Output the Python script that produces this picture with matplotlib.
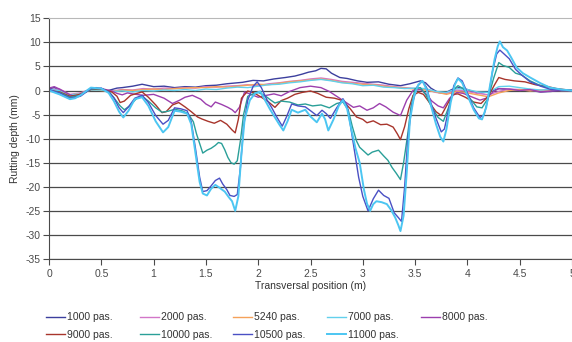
import matplotlib
matplotlib.use('Agg')
import matplotlib.pyplot as plt
import numpy as np

plt.rcParams['font.family'] = ['Liberation Sans', 'DejaVu Sans']
plt.rcParams['axes.unicode_minus'] = False

# (position m, depth mm)
s1000 = [(0, 0.3), (0.05, 0.6), (0.1, 0.1), (0.15, -0.6), (0.2, -1.2), (0.25, -1.4), (0.3, -0.9), (0.35, -0.2),
         (0.4, 0.4), (0.45, 0.6), (0.5, 0.3), (0.55, -0.1), (0.6, 0.2), (0.65, 0.5), (0.7, 0.6), (0.8, 0.9),
         (0.89, 1.3), (1.0, 0.8), (1.1, 0.9), (1.2, 0.6), (1.3, 0.8), (1.4, 0.7), (1.5, 1.0), (1.6, 1.1),
         (1.7, 1.4), (1.85, 1.7), (1.95, 2.1), (2.05, 2.0), (2.15, 2.4), (2.26, 2.7), (2.35, 3.0), (2.42, 3.4),
         (2.48, 3.8), (2.55, 4.1), (2.6, 4.6), (2.65, 4.5), (2.7, 3.6), (2.78, 2.7), (2.85, 2.5), (2.95, 2.0),
         (3.04, 1.7), (3.15, 1.8), (3.25, 1.3), (3.36, 1.0), (3.45, 1.4), (3.55, 2.0), (3.6, 1.6), (3.65, 0.5),
         (3.72, -0.4), (3.78, -0.6), (3.85, 0.2), (3.92, 0.6), (4.0, 0.2), (4.1, -0.6), (4.2, -0.3), (4.3, 0.4),
         (4.4, 0.2), (4.5, 0.1), (4.6, 0.0), (4.7, -0.3), (4.8, -0.2), (4.9, 0.1), (5.0, 0.0)]

s2000 = [(0, 0.2), (0.1, 0.3), (0.2, -0.8), (0.3, -0.5), (0.4, 0.3), (0.5, 0.2), (0.6, -0.1), (0.7, 0.2),
         (0.8, 0.1), (0.9, 0.4), (1.0, 0.3), (1.1, 0.5), (1.2, 0.4), (1.3, 0.6), (1.4, 0.5), (1.5, 0.8),
         (1.6, 0.7), (1.7, 0.9), (1.8, 1.0), (1.9, 1.2), (2.0, 1.0), (2.1, 1.4), (2.2, 1.6), (2.3, 1.9),
         (2.4, 2.1), (2.5, 2.4), (2.6, 2.6), (2.7, 2.3), (2.8, 1.9), (2.9, 1.7), (3.0, 1.5), (3.1, 1.3),
         (3.2, 1.1), (3.3, 0.8), (3.4, 0.6), (3.5, 0.4), (3.6, 0.2), (3.7, -0.4), (3.8, -0.6), (3.9, 0.1),
         (4.0, -0.2), (4.1, -0.6), (4.2, -0.9), (4.3, -0.2), (4.4, 0.3), (4.5, 0.2), (4.6, 0.1), (4.7, -0.1),
         (4.8, 0.1), (4.9, 0.0), (5.0, 0.0)]

s5240 = [(0, 0.0), (0.1, -0.2), (0.2, -1.0), (0.3, -0.6), (0.4, 0.2), (0.5, 0.0), (0.6, -0.2), (0.7, 0.1),
         (0.8, 0.0), (0.9, 0.2), (1.0, 0.3), (1.1, 0.2), (1.2, 0.4), (1.3, 0.5), (1.4, 0.6), (1.5, 0.6),
         (1.6, 0.8), (1.7, 0.7), (1.8, 0.9), (1.9, 1.1), (2.0, 1.3), (2.1, 1.2), (2.2, 1.5), (2.3, 1.8),
         (2.4, 2.0), (2.5, 2.2), (2.6, 2.4), (2.7, 2.1), (2.8, 1.7), (2.9, 1.5), (3.0, 1.3), (3.1, 1.2),
         (3.2, 0.9), (3.3, 0.7), (3.4, 0.5), (3.5, 0.3), (3.6, 0.1), (3.7, -0.3), (3.8, -0.8), (3.9, -0.2),
         (4.0, -0.5), (4.1, -0.9), (4.2, -1.3), (4.3, -0.5), (4.4, 0.0), (4.5, 0.2), (4.6, -0.1), (4.7, 0.1),
         (4.8, 0.0), (4.9, 0.1), (5.0, 0.0)]

s7000 = [(0, 0.2), (0.1, 0.0), (0.2, -0.9), (0.3, -0.7), (0.4, 0.1), (0.5, 0.1), (0.6, -0.2), (0.7, -0.1),
         (0.8, -0.3), (0.9, 0.0), (1.0, -0.1), (1.1, 0.1), (1.2, 0.0), (1.3, 0.2), (1.4, 0.0), (1.5, 0.3),
         (1.6, 0.2), (1.7, 0.5), (1.8, 0.7), (1.9, 0.6), (2.0, 0.9), (2.1, 1.2), (2.2, 1.3), (2.3, 1.6),
         (2.4, 1.8), (2.5, 2.1), (2.6, 2.3), (2.7, 2.0), (2.8, 1.6), (2.9, 1.4), (3.0, 1.0), (3.1, 1.1),
         (3.2, 0.7), (3.3, 0.6), (3.4, 0.4), (3.5, 0.5), (3.6, 0.4), (3.7, -0.2), (3.8, -0.4), (3.9, 0.4),
         (4.0, 0.2), (4.1, -0.3), (4.2, -0.4), (4.3, 0.8), (4.4, 0.9), (4.5, 0.6), (4.6, 0.3), (4.7, 0.1),
         (4.8, 0.2), (4.9, 0.0), (5.0, 0.0)]

s8000 = [(0, 0.5), (0.05, 0.8), (0.1, 0.3), (0.15, -0.3), (0.2, -0.9), (0.25, -1.2), (0.3, -0.7), (0.4, 0.3),
         (0.5, 0.4), (0.6, -0.1), (0.65, -0.6), (0.7, -0.9), (0.75, -0.5), (0.8, -0.7), (0.9, -1.0), (1.0, -0.8),
         (1.1, -1.6), (1.18, -2.7), (1.25, -2.0), (1.3, -1.4), (1.37, -1.0), (1.45, -1.8), (1.5, -2.8),
         (1.55, -3.4), (1.59, -2.4), (1.65, -2.9), (1.71, -3.5), (1.75, -4.0), (1.78, -4.6), (1.82, -3.5),
         (1.87, -0.3), (1.93, -0.8), (2.0, -1.4), (2.08, -1.0), (2.15, -0.7), (2.22, -1.1), (2.3, -0.2),
         (2.4, 0.6), (2.5, 0.9), (2.6, 0.6), (2.68, -0.2), (2.75, -1.2), (2.82, -2.2), (2.91, -3.5),
         (2.97, -3.2), (3.04, -4.1), (3.1, -3.6), (3.16, -2.7), (3.22, -3.4), (3.29, -4.5), (3.36, -5.2),
         (3.42, -2.0), (3.48, 0.0), (3.55, 0.2), (3.6, -0.6), (3.66, -2.2), (3.72, -3.2), (3.77, -3.6),
         (3.83, -1.6), (3.9, -0.4), (3.96, -0.6), (4.05, -1.4), (4.12, -2.0), (4.18, -1.6), (4.25, -0.2),
         (4.3, 0.4), (4.4, 0.3), (4.5, 0.0), (4.6, 0.2), (4.7, -0.3), (4.8, -0.1), (4.9, 0.0), (5.0, 0.0)]

s9000 = [(0, 0.0), (0.1, -0.3), (0.2, -1.2), (0.3, -0.8), (0.4, 0.2), (0.5, 0.3), (0.6, -0.3), (0.65, -1.2),
         (0.68, -2.5), (0.72, -2.2), (0.78, -1.0), (0.84, -0.6), (0.89, -0.3), (0.95, -1.4), (1.02, -3.0),
         (1.08, -4.6), (1.12, -4.4), (1.18, -3.0), (1.24, -2.5), (1.3, -3.4), (1.36, -4.4), (1.42, -5.5),
         (1.46, -5.9), (1.52, -6.4), (1.58, -6.8), (1.64, -6.2), (1.7, -7.0), (1.75, -8.2), (1.78, -8.8),
         (1.81, -6.0), (1.84, -1.6), (1.9, -0.1), (1.96, -0.5), (2.03, -1.4), (2.1, -2.4), (2.16, -3.5),
         (2.22, -2.1), (2.28, -1.6), (2.35, -0.8), (2.42, -0.4), (2.5, -0.1), (2.57, -0.6), (2.65, -1.4),
         (2.73, -1.6), (2.81, -2.1), (2.88, -3.8), (2.94, -5.5), (3.0, -6.0), (3.04, -6.7), (3.1, -6.3),
         (3.17, -7.1), (3.23, -7.0), (3.29, -7.6), (3.33, -9.0), (3.36, -10.2), (3.4, -7.5), (3.44, -3.8),
         (3.48, -1.0), (3.53, -0.4), (3.58, -0.8), (3.64, -2.6), (3.7, -4.4), (3.75, -5.2), (3.8, -3.2),
         (3.86, -0.8), (3.91, -0.7), (3.98, -1.4), (4.06, -2.4), (4.13, -2.7), (4.2, -1.2), (4.26, 1.2),
         (4.3, 2.7), (4.36, 2.3), (4.45, 2.0), (4.55, 1.8), (4.65, 1.2), (4.75, 0.9), (4.85, 0.4), (5.0, 0.0)]

s10000 = [(0, 0.0), (0.1, -0.4), (0.2, -1.4), (0.3, -1.0), (0.4, 0.3), (0.5, 0.4), (0.58, -0.4), (0.63, -1.8),
          (0.68, -3.2), (0.72, -4.0), (0.77, -3.2), (0.84, -1.6), (0.89, -1.2), (0.95, -2.2), (1.02, -3.6),
          (1.08, -4.5), (1.14, -4.3), (1.2, -3.9), (1.27, -4.2), (1.33, -4.8), (1.38, -6.5), (1.41, -9.0),
          (1.44, -11.0), (1.47, -13.0), (1.51, -12.4), (1.55, -12.0), (1.59, -11.4), (1.62, -10.8),
          (1.65, -11.0), (1.68, -12.3), (1.71, -13.9), (1.74, -15.0), (1.77, -15.3), (1.8, -14.6),
          (1.83, -10.4), (1.86, -5.0), (1.9, -1.2), (1.96, -0.6), (2.0, -0.4), (2.06, -1.0), (2.12, -2.0),
          (2.16, -2.6), (2.22, -2.2), (2.3, -2.4), (2.38, -3.0), (2.45, -2.8), (2.52, -3.2), (2.6, -3.0),
          (2.68, -3.6), (2.75, -2.7), (2.81, -2.4), (2.86, -4.0), (2.9, -7.5), (2.94, -10.5), (2.97, -11.8),
          (3.01, -12.6), (3.05, -13.4), (3.09, -12.8), (3.15, -12.4), (3.2, -13.6), (3.24, -14.5),
          (3.28, -16.0), (3.32, -17.2), (3.36, -18.5), (3.39, -15.0), (3.43, -9.0), (3.46, -3.5), (3.5, 0.4),
          (3.55, 0.6), (3.6, -0.8), (3.66, -3.5), (3.72, -5.6), (3.77, -6.4), (3.82, -3.5), (3.87, 0.2),
          (3.91, 1.0), (3.96, 0.4), (4.03, -1.8), (4.09, -3.4), (4.14, -3.6), (4.2, -1.5), (4.25, 2.5),
          (4.3, 5.8), (4.34, 5.2), (4.4, 4.8), (4.46, 3.6), (4.52, 3.2), (4.6, 2.0), (4.7, 1.0), (4.8, 0.5),
          (4.9, 0.2), (5.0, 0.0)]

s10500 = [(0, 0.2), (0.1, -0.5), (0.2, -1.6), (0.3, -1.2), (0.4, 0.4), (0.5, 0.5), (0.57, -0.3), (0.62, -1.5),
          (0.67, -3.6), (0.71, -4.6), (0.76, -3.4), (0.82, -1.6), (0.89, -1.0), (0.95, -2.5), (1.02, -5.2),
          (1.09, -7.0), (1.14, -6.2), (1.2, -3.6), (1.26, -3.8), (1.32, -4.2), (1.36, -6.5), (1.4, -12.0),
          (1.44, -18.0), (1.47, -21.0), (1.51, -20.8), (1.55, -19.8), (1.59, -18.7), (1.63, -18.2),
          (1.66, -19.4), (1.7, -20.6), (1.73, -21.8), (1.77, -22.0), (1.8, -21.6), (1.83, -16.0),
          (1.86, -7.5), (1.9, -2.0), (1.95, 0.8), (1.99, 1.8), (2.03, 0.6), (2.08, -1.8), (2.13, -3.6),
          (2.18, -5.6), (2.23, -7.4), (2.27, -5.5), (2.32, -2.8), (2.38, -3.2), (2.45, -3.4), (2.5, -4.2),
          (2.56, -5.2), (2.61, -4.1), (2.65, -4.8), (2.69, -5.8), (2.75, -3.6), (2.81, -1.7), (2.85, -3.2),
          (2.88, -7.0), (2.92, -12.5), (2.96, -18.0), (3.0, -22.0), (3.05, -25.0), (3.1, -22.5), (3.15, -20.7),
          (3.2, -21.8), (3.25, -22.4), (3.3, -25.4), (3.34, -26.4), (3.37, -27.2), (3.4, -20.0), (3.43, -10.0),
          (3.47, -3.0), (3.52, 0.8), (3.57, 2.0), (3.61, 0.6), (3.65, -2.5), (3.7, -5.8), (3.75, -8.6),
          (3.78, -8.0), (3.83, -3.0), (3.87, 1.0), (3.91, 2.6), (3.95, 2.0), (4.0, -0.5), (4.06, -3.6),
          (4.12, -5.6), (4.16, -5.0), (4.2, -1.5), (4.24, 4.0), (4.28, 7.6), (4.31, 8.4), (4.35, 7.6),
          (4.4, 6.6), (4.46, 4.4), (4.52, 3.2), (4.6, 1.8), (4.7, 0.9), (4.8, 0.2), (4.9, 0.1), (5.0, 0.0)]

s11000 = [(0, 0.0), (0.1, -0.8), (0.2, -1.8), (0.25, -1.6), (0.3, -1.0), (0.4, 0.6), (0.5, 0.4), (0.57, -0.5),
          (0.62, -2.2), (0.67, -4.4), (0.71, -5.6), (0.76, -4.2), (0.82, -1.8), (0.89, -1.4), (0.95, -3.2),
          (1.02, -6.4), (1.09, -8.7), (1.14, -7.6), (1.2, -4.2), (1.26, -4.4), (1.32, -4.8), (1.36, -7.0),
          (1.4, -13.0), (1.44, -19.0), (1.47, -21.4), (1.51, -21.8), (1.55, -20.4), (1.59, -19.6),
          (1.63, -20.2), (1.68, -21.0), (1.72, -22.2), (1.75, -23.0), (1.78, -25.0), (1.81, -22.0),
          (1.84, -13.0), (1.87, -6.0), (1.92, -2.0), (1.97, -0.6), (2.02, -0.2), (2.06, -1.8), (2.11, -3.8),
          (2.16, -5.6), (2.2, -7.0), (2.24, -8.3), (2.28, -6.4), (2.32, -4.0), (2.38, -4.6), (2.45, -4.0),
          (2.5, -5.4), (2.56, -6.6), (2.61, -4.8), (2.64, -6.0), (2.67, -8.3), (2.72, -6.0), (2.77, -3.2),
          (2.81, -2.0), (2.85, -3.8), (2.89, -8.0), (2.93, -12.0), (2.97, -15.0), (3.01, -20.5), (3.04, -23.5),
          (3.07, -25.0), (3.1, -23.6), (3.13, -23.0), (3.18, -23.2), (3.23, -23.6), (3.27, -24.8), (3.31, -26.4),
          (3.34, -28.0), (3.36, -29.2), (3.39, -26.0), (3.42, -17.0), (3.45, -6.2), (3.49, -1.2), (3.53, 1.2),
          (3.57, 2.0), (3.61, 0.2), (3.65, -3.0), (3.7, -7.0), (3.74, -9.6), (3.77, -10.6), (3.8, -8.0),
          (3.84, -2.5), (3.88, 1.2), (3.91, 2.5), (3.95, 1.6), (4.0, -1.0), (4.06, -4.0), (4.11, -5.8),
          (4.14, -6.0), (4.18, -3.5), (4.22, 1.5), (4.26, 6.5), (4.29, 9.2), (4.31, 10.2), (4.34, 9.0),
          (4.38, 8.3), (4.42, 6.8), (4.47, 4.8), (4.53, 3.6), (4.6, 2.7), (4.7, 1.5), (4.79, 0.6), (4.9, 0.2),
          (5.0, 0.0)]

labels = ['1000 pas.', '2000 pas.', '5240 pas.', '7000 pas.', '8000 pas.',
          '9000 pas.', '10000 pas.', '10500 pas.', '11000 pas.']
series = [s1000, s2000, s5240, s7000, s8000, s9000, s10000, s10500, s11000]
colors = ['#3c3f9e', '#d276c8', '#f5a25a', '#62d0ec', '#9c3fae',
          '#a8352c', '#2a9f98', '#4a50c4', '#4cc6f2']
widths = [1.0, 1.0, 1.0, 1.0, 1.0, 1.0, 1.0, 1.0, 1.4]

fig = plt.figure(figsize=(5.72, 3.42), dpi=100)
ax = fig.add_axes([0.0857, 0.2427, 0.9143, 0.7038])

handles = []
for s, lab, c, w in zip(series, labels, colors, widths):
    xs, ys = np.array(s).T
    h, = ax.plot(xs, ys, color=c, lw=w, label=lab)
    handles.append(h)

ax.set_xlim(0, 5)
ax.set_ylim(-35, 15)
ax.set_xticks(np.arange(0, 5.01, 0.5))
ax.set_xticklabels(['0', '0.5', '1', '1.5', '2', '2.5', '3', '3.5', '4', '4.5', '5'])
ax.set_yticks(np.arange(-35, 16, 5))

ax.yaxis.grid(True, color='#4a4a4a', lw=0.9)
ax.set_axisbelow(True)
ax.get_ygridlines()[-1].set_visible(False)

ax.spines['right'].set_visible(False)
ax.spines['top'].set_color('#b8b8b8')
ax.spines['left'].set_color('#4a4a4a')
ax.spines['bottom'].set_color('#4a4a4a')
ax.tick_params(axis='both', labelsize=7.5, colors='#4a4a4a', length=4, width=0.8, pad=3)
ax.tick_params(axis='y', pad=2)

ax.set_xlabel('Transversal position (m)', fontsize=7.5, color='#333333', labelpad=2)
ax.set_ylabel('Rutting depth (mm)', fontsize=7.5, color='#333333', labelpad=4)

# legend laid out like the original: 5 evenly spaced columns, filled row by row
col_x = [0.080, 0.245, 0.408, 0.572, 0.736]
for j, x0 in enumerate(col_x):
    idx = [i for i in (j, j + 5) if i < len(labels)]
    fig.legend([handles[i] for i in idx], [labels[i] for i in idx],
               loc='upper left', bbox_to_anchor=(x0, 0.087), frameon=False,
               fontsize=7.5, handlelength=1.8, handletextpad=0.2,
               labelspacing=0.7, borderpad=0, borderaxespad=0, labelcolor='#333333')

fig.savefig('out.png', dpi=100)
